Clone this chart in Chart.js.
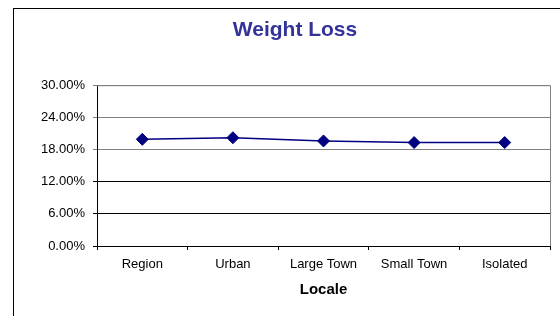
<!DOCTYPE html>
<html>
<head>
<meta charset="utf-8">
<script src="https://cdn.jsdelivr.net/npm/chart.js@4"></script>
<style>
  html, body { margin: 0; padding: 0; background: #fff; overflow: hidden; }
  #frame { position: absolute; left: 13px; top: 8px; width: 700px; height: 500px;
           border-left: 1px solid #000; border-top: 1px solid #000; }
  #chart { position: absolute; left: 0; top: 0; }
</style>
</head>
<body>
<div id="frame"></div>
<canvas id="chart" width="560" height="316"></canvas>
<script>
// data (percent)
const locales = ["Region", "Urban", "Large Town", "Small Town", "Isolated"];
const weightLoss = [19.9, 20.2, 19.6, 19.3, 19.3];
const yTicks = [0, 6, 12, 18, 24, 30];

const navy = "#000080";

// grey top + right edges of the plot area
const plotFrame = {
  id: "plotFrame",
  afterDraw(chart) {
    const { ctx, chartArea: a } = chart;
    ctx.save();
    ctx.strokeStyle = "#808080";
    ctx.lineWidth = 1;
    ctx.beginPath();
    ctx.moveTo(a.left, a.top + 0.5);
    ctx.lineTo(a.right + 0.5, a.top + 0.5);
    ctx.lineTo(a.right + 0.5, a.bottom);
    ctx.stroke();
    ctx.restore();
  },
};

new Chart(document.getElementById("chart"), {
  type: "line",
  data: {
    labels: locales,
    datasets: [
      {
        data: weightLoss,
        borderColor: navy,
        borderWidth: 1.5,
        pointStyle: "rectRot",
        pointRadius: 6,
        pointBackgroundColor: navy,
        pointBorderColor: navy,
        pointBorderWidth: 1,
        tension: 0,
      },
    ],
  },
  options: {
    responsive: false,
    animation: false,
    layout: { padding: { left: 40, right: 10, top: 0, bottom: 17 } },
    plugins: {
      legend: { display: false },
      tooltip: { enabled: false },
      title: {
        display: true,
        text: "Weight Loss",
        color: "#333399",
        font: { family: "Liberation Sans, Arial, sans-serif", size: 21, weight: "bold" },
        padding: { top: 18, bottom: 42 },
      },
    },
    scales: {
      x: {
        offset: true,
        grid: { display: true, drawOnChartArea: false, offset: true, tickLength: 4, color: "#000" },
        border: { color: "#000", width: 1 },
        ticks: {
          color: "#000",
          padding: 7,
          maxRotation: 0,
          font: { family: "Liberation Sans, Arial, sans-serif", size: 13 },
        },
        title: {
          display: true,
          text: "Locale",
          color: "#000",
          font: { family: "Liberation Sans, Arial, sans-serif", size: 15, weight: "bold" },
          padding: { top: 4, bottom: 0 },
        },
        afterFit(scale) { scale.height = 53; },
      },
      y: {
        min: yTicks[0],
        max: yTicks[yTicks.length - 1],
        afterBuildTicks(scale) { scale.ticks = yTicks.map((v) => ({ value: v })); },
        grid: {
          tickLength: 4,
          color: (c) => (c.tick && c.tick.value >= 18 ? "#808080" : "#000"),
        },
        border: { color: "#000", width: 1 },
        ticks: {
          color: "#000",
          padding: 8,
          font: { family: "Liberation Sans, Arial, sans-serif", size: 13 },
          callback: (v) => Number(v).toFixed(2) + "%",
        },
        afterFit(scale) { scale.width = 57; },
      },
    },
  },
  plugins: [plotFrame],
});
</script>
</body>
</html>
